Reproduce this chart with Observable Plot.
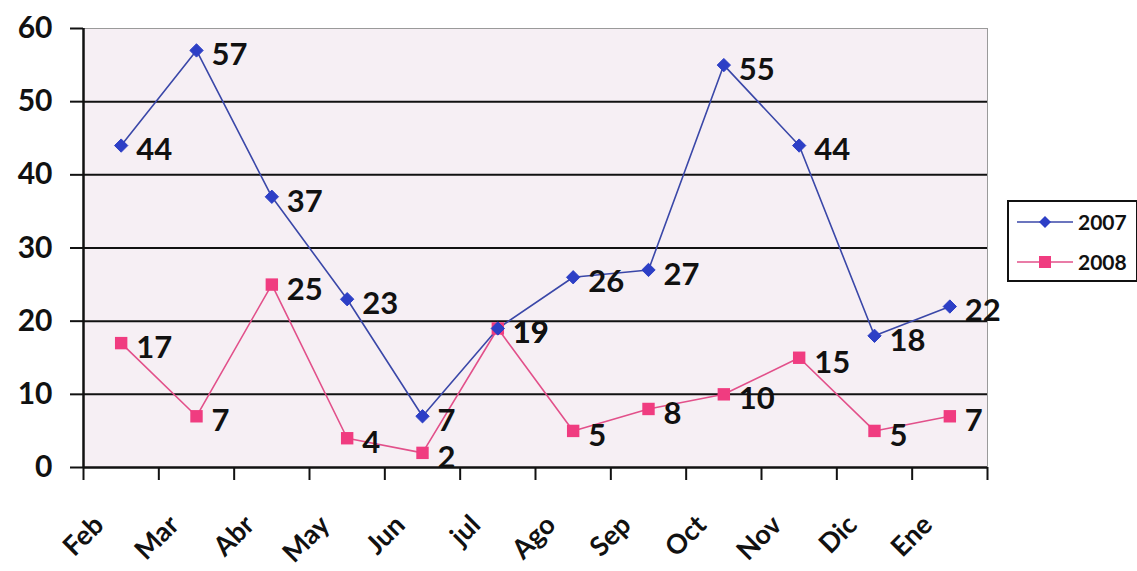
<!DOCTYPE html>
<html>
<head>
<meta charset="utf-8">
<script src="https://cdn.jsdelivr.net/npm/d3@7"></script>
<script src="https://cdn.jsdelivr.net/npm/@observablehq/plot@0.6"></script>
<style>
  html, body { margin: 0; padding: 0; background: #fff; }
  #wrap { position: relative; width: 1137px; height: 571px; font-family: Lato, "Open Sans", sans-serif; }
  #legend { position: absolute; left: 1007px; top: 200px; width: 127px; height: 78px;
    border: 2px solid #111; background: #fff; box-sizing: content-box; }
  .lg { position: absolute; left: 8px; display: flex; align-items: center; font-weight: 700; font-size: 21px; color: #111; }
  .lg svg { margin-right: 5px; }
</style>
</head>
<body>
<div id="wrap">
  <div id="chart"></div>
  <div id="legend">
    <div class="lg" style="top:7px">
      <svg width="56" height="16"><line x1="0" y1="8" x2="56" y2="8" stroke="#3a47a8" stroke-width="1.6"/><path d="M28 2 L34 8 L28 14 L22 8 Z" fill="#2d3fc6"/></svg>2007
    </div>
    <div class="lg" style="top:47px">
      <svg width="56" height="16"><line x1="0" y1="8" x2="56" y2="8" stroke="#e2508a" stroke-width="1.6"/><rect x="22" y="2" width="12" height="12" fill="#f03c80"/></svg>2008
    </div>
  </div>
</div>
<script>
const months = ["Feb","Mar","Abr","May","Jun","jul","Ago","Sep","Oct","Nov","Dic","Ene"];
const v2007 = [44,57,37,23,7,19,26,27,55,44,18,22];
const v2008 = [17,7,25,4,2,19,5,8,10,15,5,7];
const yTicks = [0,10,20,30,40,50,60];
const gridValues = [10,20,30,40,50];
const bandEdges = d3.range(months.length + 1);

const blueLine = "#3a47a8", blueMark = "#2d3fc6";
const pinkLine = "#e2508a", pinkMark = "#f03c80";
const FONT = 'Lato, "Open Sans", sans-serif';

const xi = (d, i) => i + 0.5;

const chart = Plot.plot({
  width: 1137,
  height: 571,
  marginLeft: 83,
  marginRight: 150,
  marginTop: 28,
  marginBottom: 104,
  style: { fontFamily: FONT, background: "transparent", color: "#111" },
  x: { type: "linear", domain: [0, months.length], axis: null },
  y: { domain: [0, 60], axis: null },
  marks: [
    Plot.frame({ fill: "#f6eff4", stroke: "#9a9a9a", strokeWidth: 1 }),
    Plot.ruleY(gridValues, { stroke: "#111", strokeWidth: 2 }),
    Plot.axisY(yTicks, { tickSize: 13, tickPadding: 18, strokeWidth: 2, fontSize: 30, fontWeight: 700, tickFormat: d => String(d) }),
    Plot.axisX(bandEdges, { tickSize: 13, tickFormat: () => "", strokeWidth: 2 }),
    Plot.ruleY([0], { stroke: "#111", strokeWidth: 2.5 }),
    Plot.ruleX([0], { stroke: "#111", strokeWidth: 2.5 }),
    Plot.text(months, { x: xi, frameAnchor: "bottom", text: d => d, rotate: -45, textAnchor: "end", lineAnchor: "middle", dx: -22, dy: 53, fontSize: 27, fontWeight: 700, fill: "#111" }),
    Plot.line(v2008, { x: xi, y: d => d, stroke: pinkLine, strokeWidth: 1.6 }),
    Plot.line(v2007, { x: xi, y: d => d, stroke: blueLine, strokeWidth: 1.6 }),
    Plot.dot(v2008, { x: xi, y: d => d, symbol: "square", r: 7, fill: pinkMark, stroke: "none" }),
    Plot.dot(v2007, { x: xi, y: d => d, symbol: "diamond2", r: 6, fill: blueMark, stroke: blueMark, strokeWidth: 1 }),
    Plot.text(v2007, { x: xi, y: d => d, text: d => String(d), textAnchor: "start", dx: 15, dy: 5, fontSize: 31, fontWeight: 700, fill: "#111" }),
    Plot.text(v2008, { x: xi, y: d => d, text: d => String(d), textAnchor: "start", dx: 15, dy: 5, fontSize: 31, fontWeight: 700, fill: "#111" })
  ]
});
document.getElementById("chart").appendChild(chart);
</script>
</body>
</html>
